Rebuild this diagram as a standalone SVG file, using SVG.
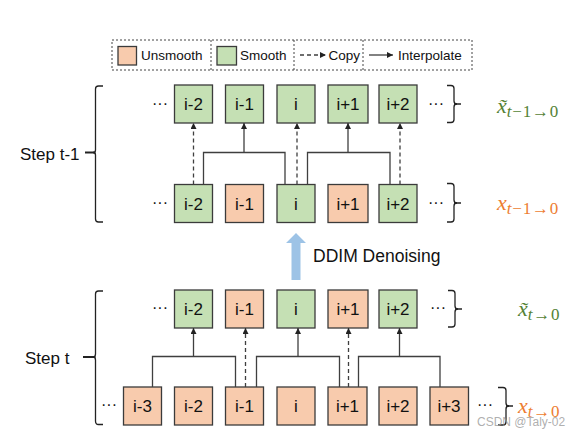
<svg xmlns="http://www.w3.org/2000/svg" width="582" height="438" viewBox="0 0 582 438">
<style>
.g{fill:#c5e0b4;stroke:#3b3b3b;stroke-width:1.3}
.o{fill:#f8cbad;stroke:#3b3b3b;stroke-width:1.3}
.lb{font-family:"Liberation Sans",Arial,sans-serif;font-size:17px;fill:#111;text-anchor:middle}
.t{font-family:"Liberation Sans",Arial,sans-serif;fill:#111}
.dots{font-family:"Liberation Sans",Arial,sans-serif;font-size:16px;fill:#111}
.ln{fill:none;stroke:#3f3f3f;stroke-width:1.3}
.ar{fill:none;stroke:#3f3f3f;stroke-width:1.3;marker-end:url(#ah)}
.da{fill:none;stroke:#3f3f3f;stroke-width:1.3;stroke-dasharray:4 3;marker-end:url(#ah)}
.br{fill:none;stroke:#222;stroke-width:1.3}
.m{font-family:"Liberation Serif","Times New Roman",serif;font-size:22px}
.sub{font-size:17px;letter-spacing:0.8px}
</style>
<defs>
<marker id="ah" viewBox="0 0 6 6" refX="6" refY="3" markerWidth="6" markerHeight="6" markerUnits="userSpaceOnUse" orient="auto">
<path d="M0,0 L6,3 L0,6 z" fill="#222"/>
</marker>
</defs>
<rect width="582" height="438" fill="#fff"/>

<g id="legend">
<rect x="112" y="40" width="360" height="30" fill="none" stroke="#444" stroke-width="1" stroke-dasharray="2 2"/>
<line x1="211" y1="40" x2="211" y2="70" stroke="#444" stroke-dasharray="2 2"/>
<line x1="294" y1="40" x2="294" y2="70" stroke="#444" stroke-dasharray="2 2"/>
<line x1="363" y1="40" x2="363" y2="70" stroke="#444" stroke-dasharray="2 2"/>
<rect x="118" y="46.5" width="18.5" height="18.5" class="o"/>
<text x="141" y="60" class="t" font-size="13.5">Unsmooth</text>
<rect x="217" y="46.5" width="19.5" height="18.5" class="g"/>
<text x="240" y="60" class="t" font-size="13.5">Smooth</text>
<line x1="300" y1="55" x2="326" y2="55" class="da" stroke-dasharray="3 2.5"/>
<text x="328.5" y="60" class="t" font-size="13.5">Copy</text>
<line x1="369" y1="55" x2="393" y2="55" class="ar"/>
<text x="398" y="60" class="t" font-size="13.5">Interpolate</text>
</g>

<g id="step-t-1-label">
<text x="20" y="160" class="t" font-size="17">Step t-1</text>
<path class="br" d="M103,86 H98.5 Q95.5,86 95.5,89 V150 Q95.5,152.5 93,152.5 Q95.5,152.5 95.5,155 V219 Q95.5,222 98.5,222 H103"/>
<line x1="85" y1="152.5" x2="95.5" y2="152.5" stroke="#222" stroke-width="2"/>
</g>

<g id="step-t-label">
<text x="25" y="364" class="t" font-size="17">Step t</text>
<path class="br" d="M103,291 H98.5 Q95.5,291 95.5,294 V354 Q95.5,357 93,357 Q95.5,357 95.5,360 V421 Q95.5,424.5 98.5,424.5 H103"/>
<line x1="83" y1="357" x2="95.5" y2="357" stroke="#222" stroke-width="2"/>
</g>

<g id="row-t1-smooth">
<text x="152" y="109" class="dots">···</text>
<g id="t1s-im2"><rect x="174.5" y="85" width="38" height="38" class="g"/><text x="193.5" y="110" class="lb">i-2</text></g>
<g id="t1s-im1"><rect x="225.5" y="85" width="38" height="38" class="g"/><text x="244.5" y="110" class="lb">i-1</text></g>
<g id="t1s-i"><rect x="277" y="85" width="38" height="38" class="g"/><text x="296" y="110" class="lb">i</text></g>
<g id="t1s-ip1"><rect x="328" y="85" width="40" height="38" class="g"/><text x="348" y="110" class="lb">i+1</text></g>
<g id="t1s-ip2"><rect x="379" y="85" width="38" height="38" class="g"/><text x="398" y="110" class="lb">i+2</text></g>
<text x="428" y="109" class="dots">···</text>
<path class="br" d="M447,85.5 H451 Q454,85.5 454,88.5 V101 Q454,104 457,104 Q454,104 454,107 V119.5 Q454,122.5 451,122.5 H447"/>
<line x1="454" y1="104" x2="461" y2="104" stroke="#222" stroke-width="1.5"/>
</g>

<g id="row-t1-unsmooth">
<text x="152" y="208" class="dots">···</text>
<g id="t1u-im2"><rect x="174.5" y="184.5" width="38" height="38" class="g"/><text x="193.5" y="209.5" class="lb">i-2</text></g>
<g id="t1u-im1"><rect x="225.5" y="184.5" width="38" height="38" class="o"/><text x="244.5" y="209.5" class="lb">i-1</text></g>
<g id="t1u-i"><rect x="277" y="184.5" width="38" height="38" class="g"/><text x="296" y="209.5" class="lb">i</text></g>
<g id="t1u-ip1"><rect x="328" y="184.5" width="40" height="38" class="o"/><text x="348" y="209.5" class="lb">i+1</text></g>
<g id="t1u-ip2"><rect x="379" y="184.5" width="38" height="38" class="g"/><text x="398" y="209.5" class="lb">i+2</text></g>
<text x="428" y="208" class="dots">···</text>
<path class="br" d="M447,183.5 H451 Q454,183.5 454,186.5 V200 Q454,203 457,203 Q454,203 454,206 V219 Q454,222 451,222 H447"/>
<line x1="454" y1="203" x2="461" y2="203" stroke="#222" stroke-width="1.5"/>
</g>

<g id="row-t-smooth">
<text x="152" y="313" class="dots">···</text>
<g id="ts-im2"><rect x="174.5" y="290" width="38" height="38" class="g"/><text x="193.5" y="315" class="lb">i-2</text></g>
<g id="ts-im1"><rect x="225.5" y="290" width="38" height="38" class="o"/><text x="244.5" y="315" class="lb">i-1</text></g>
<g id="ts-i"><rect x="277" y="290" width="38" height="38" class="g"/><text x="296" y="315" class="lb">i</text></g>
<g id="ts-ip1"><rect x="328" y="290" width="40" height="38" class="o"/><text x="348" y="315" class="lb">i+1</text></g>
<g id="ts-ip2"><rect x="379" y="290" width="38" height="38" class="g"/><text x="398" y="315" class="lb">i+2</text></g>
<text x="430" y="313" class="dots">···</text>
<path class="br" d="M448,290.5 H452 Q455,290.5 455,293.5 V306 Q455,309 458,309 Q455,309 455,312 V324 Q455,327 452,327 H448"/>
<line x1="455" y1="309" x2="462" y2="309" stroke="#222" stroke-width="1.5"/>
</g>

<g id="row-t-unsmooth">
<text x="101" y="410" class="dots">···</text>
<g id="tu-im3"><rect x="123.5" y="387" width="38" height="38" class="o"/><text x="142.5" y="412" class="lb">i-3</text></g>
<g id="tu-im2"><rect x="174.5" y="387" width="38" height="38" class="o"/><text x="193.5" y="412" class="lb">i-2</text></g>
<g id="tu-im1"><rect x="225.5" y="387" width="38" height="38" class="o"/><text x="244.5" y="412" class="lb">i-1</text></g>
<g id="tu-i"><rect x="277" y="387" width="38" height="38" class="o"/><text x="296" y="412" class="lb">i</text></g>
<g id="tu-ip1"><rect x="328" y="387" width="39" height="38" class="o"/><text x="347.5" y="412" class="lb">i+1</text></g>
<g id="tu-ip2"><rect x="379" y="387" width="38" height="38" class="o"/><text x="398" y="412" class="lb">i+2</text></g>
<g id="tu-ip3"><rect x="430" y="387" width="38.5" height="38" class="o"/><text x="449" y="412" class="lb">i+3</text></g>
<text x="477" y="410" class="dots">···</text>
<path class="br" d="M498,387.5 H503 Q506,387.5 506,390.5 V403 Q506,406 509,406 Q506,406 506,409 V422 Q506,425 503,425 H498"/>
<line x1="506" y1="406" x2="513" y2="406" stroke="#222" stroke-width="1.5"/>
</g>

<g id="connectors">
<line x1="193.5" y1="184.5" x2="193.5" y2="123" class="da"/>
<path class="ln" d="M203.5,184.5 V152.5 H285 V184.5"/>
<line x1="244" y1="152.5" x2="244" y2="123" class="ar"/>
<line x1="297" y1="184.5" x2="297" y2="123" class="da"/>
<path class="ln" d="M307.5,184.5 V152.5 H390 V184.5"/>
<line x1="348" y1="152.5" x2="348" y2="123" class="ar"/>
<line x1="400" y1="184.5" x2="400" y2="123" class="da"/>

<path class="ln" d="M152.5,387 V356.5 H235.5 V387"/>
<line x1="193.5" y1="356.5" x2="193.5" y2="328" class="ar"/>
<line x1="245.5" y1="387" x2="245.5" y2="328" class="da"/>
<path class="ln" d="M256.5,387 V356.5 H339.5 V387"/>
<line x1="298" y1="356.5" x2="298" y2="328" class="ar"/>
<line x1="348.5" y1="387" x2="348.5" y2="328" class="da"/>
<path class="ln" d="M358.5,387 V356.5 H440 V387"/>
<line x1="399.5" y1="356.5" x2="399.5" y2="328" class="ar"/>
</g>

<g id="ddim">
<polygon points="296,233 306,243 300.5,243 300.5,280 291.5,280 291.5,243 286,243" fill="#9dc3e6"/>
<text x="313" y="262" class="t" font-size="17.5">DDIM Denoising</text>
</g>

<g id="math-labels">
<text x="497" y="113" class="m" fill="#548235"><tspan font-style="italic">x̃</tspan><tspan class="sub" dy="4"><tspan font-style="italic">t</tspan>−1→0</tspan></text>
<text x="497" y="210" class="m" fill="#ed7d31"><tspan font-style="italic">x</tspan><tspan class="sub" dy="4"><tspan font-style="italic">t</tspan>−1→0</tspan></text>
<text x="518" y="316" class="m" fill="#548235"><tspan font-style="italic">x̃</tspan><tspan class="sub" dy="4"><tspan font-style="italic">t</tspan>→0</tspan></text>
<text x="518" y="413" class="m" fill="#ed7d31"><tspan font-style="italic">x</tspan><tspan class="sub" dy="4"><tspan font-style="italic">t</tspan>→0</tspan></text>
</g>

<text x="477" y="426" font-family="Liberation Sans,Arial,sans-serif" font-size="12" fill="#9a9a9a" fill-opacity="0.8">CSDN @Taly-02</text>
</svg>
